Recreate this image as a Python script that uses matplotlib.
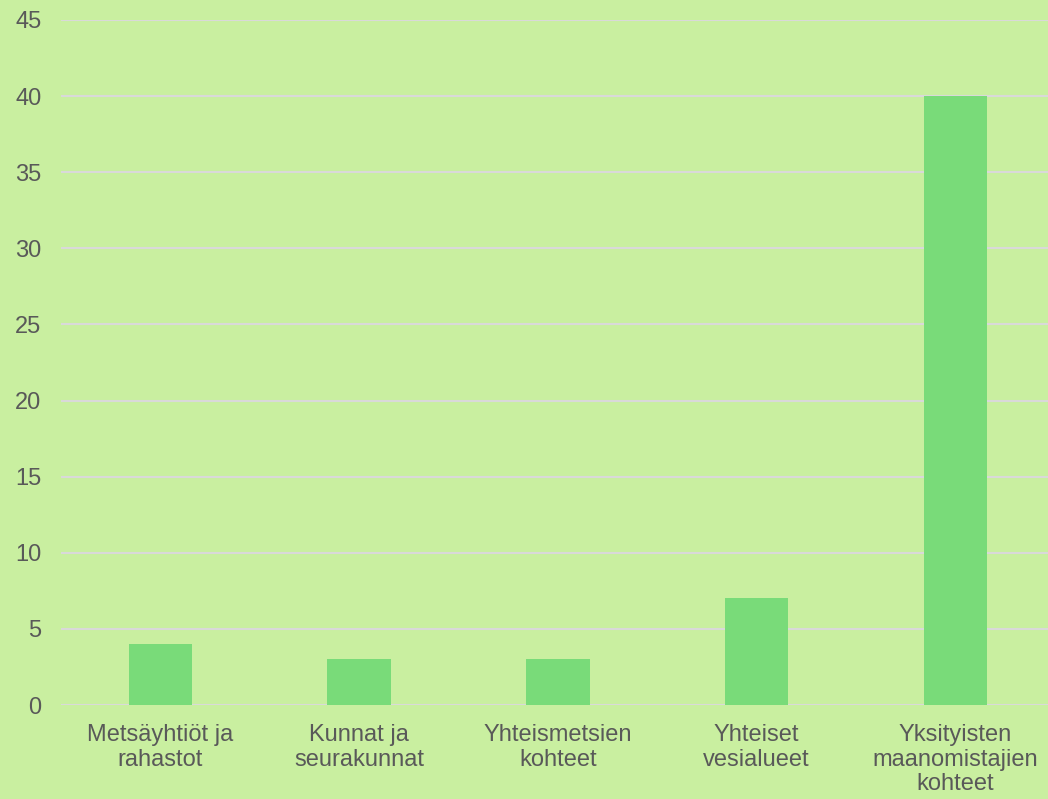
import matplotlib
matplotlib.use("Agg")
import matplotlib.pyplot as plt

categories = ["Metsäyhtiöt ja\nrahastot", "Kunnat ja\nseurakunnat", "Yhteismetsien\nkohteet",
              "Yhteiset\nvesialueet", "Yksityisten\nmaanomistajien\nkohteet"]
values = [4, 3, 3, 7, 40]
yticks = [0, 5, 10, 15, 20, 25, 30, 35, 40, 45]

bg = "#C9EFA0"
plt.rcParams['font.family'] = ['Liberation Sans', 'DejaVu Sans']

fig = plt.figure(figsize=(10.48, 7.99), dpi=100, facecolor=bg)
ax = fig.add_axes([61/1048, 1-705/799, 993.75/1048, (705-20)/799])
ax.set_facecolor(bg)

x = range(len(categories))
ax.bar(x, values, width=0.32, color="#79DB79", zorder=3)
ax.set_xlim(-0.5, len(categories)-0.5)
ax.set_ylim(0, 45)
ax.set_yticks(yticks)
ax.set_xticks(list(x))
ax.set_xticklabels(categories, fontsize=17, color="#595959", linespacing=1.13)
ax.tick_params(axis='y', labelsize=17, labelcolor="#595959", length=0, pad=14)
ax.tick_params(axis='x', length=0, pad=14)
ax.grid(axis='y', color="#D9D9D9", linewidth=1.5, zorder=0)
for s in ax.spines.values():
    s.set_visible(False)

fig.savefig("out.png", dpi=100, facecolor=bg)
